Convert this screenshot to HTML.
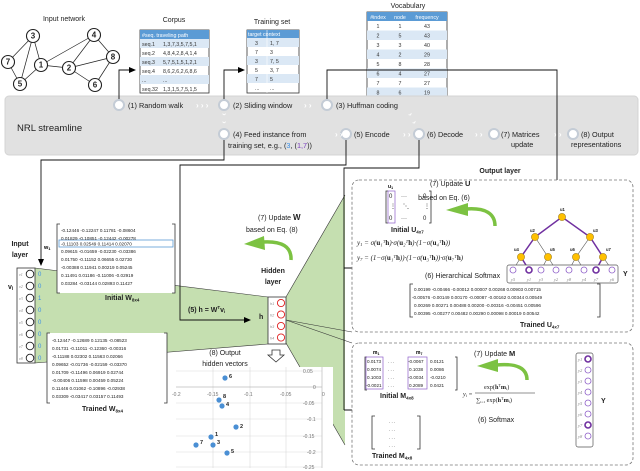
<!DOCTYPE html>
<html><head><meta charset="utf-8"><style>
html,body{margin:0;padding:0;background:#fff}
svg{display:block;font-family:"Liberation Sans",sans-serif}
.t{font-size:7px;fill:#222}
.m{font-size:4.6px;fill:#222}
.s{font-size:8px;fill:#222}
.b{font-weight:bold}
</style></head><body>
<svg width="640" height="471" viewBox="0 0 640 471" xmlns="http://www.w3.org/2000/svg">
<defs>
<marker id="ar" markerWidth="8" markerHeight="8" refX="6" refY="3" orient="auto" markerUnits="userSpaceOnUse"><path d="M0,0 L7,3 L0,6z" fill="#000"/></marker>
</defs>
<polygon points="35,268 268,297 268,344 35,363" fill="#c5dfb0"/>
<polygon points="286,297 345,195 345,445 286,343" fill="#c5dfb0"/>
<line x1="35" y1="268" x2="268" y2="297" stroke="#333" stroke-width="0.6"/>
<line x1="35" y1="363" x2="268" y2="344" stroke="#333" stroke-width="0.6"/>
<line x1="286" y1="297" x2="345" y2="195" stroke="#333" stroke-width="0.6"/>
<line x1="286" y1="343" x2="345" y2="445" stroke="#333" stroke-width="0.6"/>
<line x1="286" y1="320" x2="352" y2="332" stroke="#333" stroke-width="0.6"/>
<line x1="286" y1="320" x2="352" y2="343" stroke="#333" stroke-width="0.6"/>

<text x="64" y="21" class="t" text-anchor="middle">Input network</text>
<g stroke="#222" stroke-width="0.7">
<line x1="33" y1="36" x2="8" y2="62"/><line x1="33" y1="36" x2="20" y2="84"/><line x1="33" y1="36" x2="41" y2="65"/>
<line x1="8" y1="62" x2="20" y2="84"/><line x1="20" y1="84" x2="41" y2="65"/><line x1="41" y1="65" x2="69" y2="68"/>
<line x1="41" y1="65" x2="94" y2="35"/><line x1="69" y1="68" x2="94" y2="35"/><line x1="69" y1="68" x2="113" y2="57"/>
<line x1="69" y1="68" x2="95" y2="85"/><line x1="94" y1="35" x2="113" y2="57"/><line x1="113" y1="57" x2="95" y2="85"/>
</g>
<g fill="#fff" stroke="#222" stroke-width="1.1">
<circle cx="33" cy="36" r="6.5"/><circle cx="8" cy="62" r="6.5"/><circle cx="20" cy="84" r="6.5"/><circle cx="41" cy="65" r="6.5"/>
<circle cx="69" cy="68" r="6.5"/><circle cx="94" cy="35" r="6.5"/><circle cx="113" cy="57" r="6.5"/><circle cx="95" cy="85" r="6.5"/>
</g>
<g class="s b" text-anchor="middle" font-size="6.5">
<text x="33" y="38.5">3</text><text x="8" y="64.5">7</text><text x="20" y="86.5">5</text><text x="41" y="67.5">1</text>
<text x="69" y="70.5">2</text><text x="94" y="37.5">4</text><text x="113" y="59.5">8</text><text x="95" y="87.5">6</text>
</g>

<text x="174" y="22" class="t" text-anchor="middle">Corpus</text>
<rect x="140" y="30" width="69" height="63" fill="#fff" stroke="#333" stroke-width="0.8"/>
<rect x="140" y="30" width="69" height="9" fill="#5b9bd5"/>
<rect x="140" y="39" width="69" height="9" fill="#dbe8f5"/><rect x="140" y="57" width="69" height="9" fill="#dbe8f5"/><rect x="140" y="75" width="69" height="9" fill="#dbe8f5"/>
<g font-size="5.3" fill="#333">
<text x="142" y="37" fill="#fff">#seq.  traveling path</text>
<text x="142" y="46">seq.1</text><text x="163" y="46">1,3,7,3,5,7,5,1</text>
<text x="142" y="55">seq.2</text><text x="163" y="55">4,8,4,2,8,4,1,4</text>
<text x="142" y="64">seq.3</text><text x="163" y="64">5,7,5,1,5,1,2,1</text>
<text x="142" y="73">seq.4</text><text x="163" y="73">8,6,2,6,2,6,8,6</text>
<text x="142" y="82">...</text><text x="163" y="82">...</text>
<text x="142" y="91">seq.32</text><text x="163" y="91">1,3,1,5,7,5,1,5</text>
</g>
<text x="272" y="24" class="t" text-anchor="middle">Training set</text>
<rect x="247" y="30" width="52" height="63" fill="#fff" stroke="#333" stroke-width="0.8"/>
<rect x="247" y="30" width="52" height="8" fill="#5b9bd5"/>
<rect x="247" y="38" width="52" height="9" fill="#dbe8f5"/><rect x="247" y="56" width="52" height="9" fill="#dbe8f5"/><rect x="247" y="74" width="52" height="9" fill="#dbe8f5"/>
<line x1="267" y1="30" x2="267" y2="93" stroke="#fff" stroke-width="0.6"/>
<g font-size="5.3" fill="#333">
<text x="248" y="36" fill="#fff">target context</text>
<text x="255" y="45">3</text><text x="270" y="45">1, 7</text>
<text x="255" y="54">7</text><text x="270" y="54">3</text>
<text x="255" y="63">3</text><text x="270" y="63">7, 5</text>
<text x="255" y="72">5</text><text x="270" y="72">3, 7</text>
<text x="255" y="81">7</text><text x="270" y="81">5</text>
<text x="255" y="90">...</text><text x="270" y="90">...</text>
</g>
<text x="408" y="8" class="t" text-anchor="middle">Vocabulary</text>
<rect x="367" y="12" width="80" height="85" fill="#fff" stroke="#333" stroke-width="0.8"/>
<rect x="367" y="12" width="80" height="9" fill="#5b9bd5"/>
<g fill="#dbe8f5"><rect x="367" y="30.5" width="80" height="9.5"/><rect x="367" y="49.5" width="80" height="9.5"/><rect x="367" y="68.5" width="80" height="9.5"/><rect x="367" y="87.5" width="80" height="9.5"/></g>
<g font-size="5.3" fill="#333" text-anchor="middle">
<text x="378" y="19" fill="#fff">#index</text><text x="400" y="19" fill="#fff">node</text><text x="427" y="19" fill="#fff">frequency</text>
<text x="378" y="28">1</text><text x="400" y="28">1</text><text x="427" y="28">43</text>
<text x="378" y="37.5">2</text><text x="400" y="37.5">5</text><text x="427" y="37.5">43</text>
<text x="378" y="47">3</text><text x="400" y="47">3</text><text x="427" y="47">40</text>
<text x="378" y="56.5">4</text><text x="400" y="56.5">2</text><text x="427" y="56.5">29</text>
<text x="378" y="66">5</text><text x="400" y="66">8</text><text x="427" y="66">28</text>
<text x="378" y="75.5">6</text><text x="400" y="75.5">4</text><text x="427" y="75.5">27</text>
<text x="378" y="85">7</text><text x="400" y="85">7</text><text x="427" y="85">27</text>
<text x="378" y="94.5">8</text><text x="400" y="94.5">6</text><text x="427" y="94.5">19</text>
</g>

<rect x="5" y="96" width="633" height="59" rx="4" fill="#e1e1e1" stroke="#d4d4d4"/>
<text x="17" y="131" font-size="9.5" fill="#222">NRL streamline</text>
<g fill="none" stroke="#111" stroke-width="0.9">
<polyline points="119,100 119,70 135,70" marker-end="url(#ar)"/>
<polyline points="224,100 224,70 244,70" marker-end="url(#ar)"/>
<polyline points="327,100 327,70 557,70 557,193" marker-end="url(#ar)"/>
<polyline points="224,140 224,160 41,160 41,265" marker-end="url(#ar)"/>
<polyline points="346,140 346,165 180,165 180,320 250,320" marker-end="url(#ar)"/>
<polyline points="419,140 419,168 344,168 344,410"/>
<polyline points="344,268 496,268" marker-end="url(#ar)"/>
<polyline points="344,410 558,410" marker-end="url(#ar)"/>
</g>
<g fill="#fff" stroke="#c4ccd6" stroke-width="2">
<circle cx="119" cy="105" r="5"/><circle cx="224" cy="105" r="5"/>
<circle cx="327" cy="105" r="5"/><circle cx="224" cy="134" r="5"/><circle cx="346" cy="134" r="5"/><circle cx="419" cy="134" r="5"/>
<circle cx="494" cy="134" r="5"/><circle cx="573" cy="134" r="5"/>
</g>
<g font-size="7.3" fill="#222">
<text x="128" y="108">(1) Random walk</text>
<text x="233" y="108">(2) Sliding window</text>
<text x="336" y="108">(3) Huffman coding</text>
<text x="233" y="137">(4) Feed instance from</text>
<text x="228" y="148">training set, e.g., (<tspan fill="#3a8ee6">3</tspan>, (<tspan fill="#7b3fbf">1,7</tspan>))</text>
<text x="354" y="137">(5) Encode</text>
<text x="427" y="137">(6) Decode</text>
<text x="501" y="137">(7) Matrices</text>
<text x="511" y="147">update</text>
<text x="581" y="137">(8) Output</text>
<text x="571" y="147">representations</text>
</g>
<g font-size="8" fill="#fff" font-weight="bold">
<text x="196" y="108">› › ›</text><text x="304" y="108">› ›</text>
<text x="335" y="137">› ›</text><text x="403" y="137">› ›</text><text x="475" y="137">› ›</text><text x="554" y="137">› ›</text>
<text x="221" y="118" transform="rotate(90 224 116)">›</text><text x="221" y="126" transform="rotate(90 224 124)">›</text>
<text x="408" y="118" transform="rotate(60 411 116)">›</text><text x="412" y="126" transform="rotate(60 415 124)">›</text>
</g>

<text x="20" y="246" class="t b" text-anchor="middle">Input</text>
<text x="20" y="257" class="t b" text-anchor="middle">layer</text>
<text x="8" y="289" class="t b">v<tspan font-size="5" dy="1">i</tspan></text>
<text x="44" y="249" font-size="5.5" class="b">w<tspan font-size="4" dy="1">1</tspan></text>
<rect x="17" y="268" width="18" height="95" fill="#fff" stroke="#333" stroke-width="0.8"/>
<g fill="none" stroke="#222" stroke-width="0.9">
<circle cx="30" cy="274" r="3.8"/><circle cx="30" cy="286" r="3.8"/><circle cx="30" cy="298" r="3.8"/><circle cx="30" cy="310" r="3.8"/>
<circle cx="30" cy="322" r="3.8"/><circle cx="30" cy="334" r="3.8"/><circle cx="30" cy="346" r="3.8"/><circle cx="30" cy="358" r="3.8"/>
</g>
<g font-size="4" fill="#888" font-style="italic" font-family="Liberation Serif">
<text x="19" y="276">v1</text><text x="19" y="288">v2</text><text x="19" y="300">v3</text><text x="19" y="312">v4</text>
<text x="19" y="324">v5</text><text x="19" y="336">v6</text><text x="19" y="348">v7</text><text x="19" y="360">v8</text>
</g>
<g font-size="6" fill="#3a8ee6">
<text x="38" y="276">0</text><text x="38" y="288">0</text><text x="38" y="300">1</text><text x="38" y="312">0</text>
<text x="38" y="324">0</text><text x="38" y="336">0</text><text x="38" y="348">0</text><text x="38" y="360">0</text>
</g>

<rect x="57" y="224" width="118" height="69" fill="#fff"/>
<path d="M60,224 h-3 v69 h3 M172,224 h3 v69 h-3" fill="none" stroke="#333" stroke-width="0.8"/>
<rect x="59" y="240" width="114" height="7" fill="none" stroke="#5b9bd5" stroke-width="0.8"/>
<g class="m">
<text x="61" y="232">-0.12446   -0.12247   0.11781   -0.08604</text>
<text x="61" y="240">0.01829   -0.10851   -0.12442   -0.00278</text>
<text x="61" y="245.5">-0.11103   0.02549   0.11414   0.02070</text>
<text x="61" y="253">0.09615   -0.01659   -0.02230   -0.03386</text>
<text x="61" y="261">0.01750   -0.11152   0.06655   0.02730</text>
<text x="61" y="269">-0.00388   0.11941   0.00219   0.05245</text>
<text x="61" y="277">0.11491   0.01186   -0.11006   -0.02919</text>
<text x="61" y="285">0.03284   -0.03144   0.02893   0.11427</text>
</g>
<text x="105" y="300" class="t b">Initial W<tspan font-size="4.5" dy="1.5">8x4</tspan></text>
<rect x="47" y="333" width="120" height="70" fill="#fff"/>
<path d="M50,333 h-3 v70 h3 M164,333 h3 v70 h-3" fill="none" stroke="#333" stroke-width="0.8"/>
<g class="m">
<text x="52" y="342">-0.12447   -0.12689   0.12135   -0.08523</text>
<text x="52" y="350">0.01731   -0.11011   -0.12360   -0.00316</text>
<text x="52" y="358">-0.11188   0.02302   0.11563   0.02066</text>
<text x="52" y="366">0.09652   -0.01736   -0.02159   -0.03370</text>
<text x="52" y="374">0.01709   -0.11496   0.06919   0.02744</text>
<text x="52" y="382">-0.00406   0.11598   0.00459   0.05224</text>
<text x="52" y="390">0.11446   0.01062   -0.10896   -0.02938</text>
<text x="52" y="398">0.03309   -0.03417   0.03157   0.11493</text>
</g>
<text x="82" y="411" class="t b">Trained W<tspan font-size="4.5" dy="1.5">8x4</tspan></text>

<text x="258" y="220" class="t">(7) Update <tspan class="b" font-size="8">W</tspan></text>
<text x="246" y="232" class="t">based on Eq. (8)</text>
<path d="M291,260 Q292,240 262,242" fill="none" stroke="#7cc242" stroke-width="3.5"/>
<path d="M264,236 L244,244 L265,250z" fill="#7cc242"/>
<text x="273" y="273" class="t b" text-anchor="middle">Hidden</text>
<text x="273" y="284" class="t b" text-anchor="middle">layer</text>
<text x="188" y="312" class="t b">(5) h = W<tspan font-size="4.5" dy="-3">T</tspan><tspan dy="3">v</tspan><tspan font-size="4.5" dy="1">i</tspan></text>
<text x="259" y="319" class="t b">h</text>
<rect x="268" y="297" width="18" height="47" fill="#fff" stroke="#333" stroke-width="0.8"/>
<g fill="#fff" stroke="#e02020" stroke-width="0.9">
<circle cx="281" cy="303" r="3.6"/><circle cx="281" cy="314.5" r="3.6"/><circle cx="281" cy="326" r="3.6"/><circle cx="281" cy="337.5" r="3.6"/>
</g>
<g font-size="3.8" fill="#888" font-style="italic"><text x="270" y="305">h1</text><text x="270" y="316.5">h2</text><text x="270" y="328">h3</text><text x="270" y="339.5">h4</text></g>
<path d="M272,350 h8 v5 h4 l-8,7 l-8,-7 h4z" fill="#fff" stroke="#333" stroke-width="0.8"/>
<text x="225" y="355" class="t" text-anchor="middle">(8) Output</text>
<text x="225" y="366" class="t" text-anchor="middle">hidden vectors</text>

<rect x="176" y="367" width="157" height="101" fill="#fff"/>
<g stroke="#d9d9d9" stroke-width="0.6">
<line x1="176" y1="371" x2="322" y2="371"/><line x1="176" y1="403" x2="322" y2="403"/><line x1="176" y1="419" x2="322" y2="419"/>
<line x1="176" y1="436" x2="322" y2="436"/><line x1="176" y1="452" x2="322" y2="452"/><line x1="176" y1="467" x2="322" y2="467"/>
<line x1="213" y1="367" x2="213" y2="468"/><line x1="250" y1="367" x2="250" y2="468"/><line x1="286" y1="367" x2="286" y2="468"/>
</g>
<line x1="176" y1="387" x2="322" y2="387" stroke="#bbb" stroke-width="0.7"/>
<line x1="322" y1="367" x2="322" y2="468" stroke="#bbb" stroke-width="0.7"/>
<g font-size="5" fill="#777">
<text x="172" y="396">-0.2</text><text x="207" y="396">-0.15</text><text x="244" y="396">-0.1</text><text x="280" y="396">-0.05</text><text x="322" y="396">0</text>
<text x="303" y="373">0.05</text><text x="313" y="389">0</text><text x="303" y="405">-0.05</text><text x="307" y="421">-0.1</text>
<text x="303" y="438">-0.15</text><text x="307" y="454">-0.2</text><text x="303" y="469">-0.25</text>
</g>
<g fill="#4a8fd4">
<circle cx="225" cy="378" r="2.6"/><circle cx="219" cy="400" r="2.6"/><circle cx="222" cy="406" r="2.6"/><circle cx="236" cy="427" r="2.6"/>
<circle cx="211" cy="437" r="2.6"/><circle cx="196" cy="445" r="2.6"/><circle cx="213" cy="445" r="2.6"/><circle cx="227" cy="453" r="2.6"/>
</g>
<g font-size="5.5" class="b" fill="#222">
<text x="229" y="378">6</text><text x="223" y="398">8</text><text x="226" y="406">4</text><text x="240" y="428">2</text>
<text x="215" y="436">1</text><text x="200" y="444">7</text><text x="217" y="444">3</text><text x="231" y="453">5</text>
</g>

<text x="500" y="173" class="t b" text-anchor="middle">Output layer</text>
<rect x="352" y="180" width="281" height="152" rx="7" fill="#fff" stroke="#777" stroke-width="0.8" stroke-dasharray="3,2"/>
<text x="388" y="188" font-size="5" class="b">u<tspan font-size="3.5" dy="1">1</tspan></text>
<path d="M388,191 h-2 v32 h2 M429,191 h2 v32 h-2" fill="none" stroke="#333" stroke-width="0.8"/>
<rect x="388" y="191" width="7" height="32" fill="none" stroke="#8e5ec8" stroke-width="0.7"/>
<g font-size="6" fill="#222"><text x="389" y="198">0</text><text x="401" y="198">···</text><text x="423" y="198">0</text>
<text x="390" y="208">⋮</text><text x="403" y="208">⋱</text><text x="424" y="208">⋮</text>
<text x="389" y="220">0</text><text x="401" y="220">···</text><text x="423" y="220">0</text></g>
<text x="391" y="232" class="t b">Initial U<tspan font-size="4.5" dy="1.5">4x7</tspan></text>
<g font-family="Liberation Serif" font-size="7" fill="#222" font-style="italic">
<text x="357" y="245">y<tspan font-size="4.5" dy="1">1</tspan><tspan dy="-1"> = σ(<tspan font-weight="bold" font-style="normal">u</tspan>₁ᵀ<tspan font-weight="bold" font-style="normal">h</tspan>)·σ(<tspan font-weight="bold" font-style="normal">u</tspan>₂ᵀ<tspan font-weight="bold" font-style="normal">h</tspan>)·(1−σ(<tspan font-weight="bold" font-style="normal">u</tspan>₄ᵀ<tspan font-weight="bold" font-style="normal">h</tspan>))</tspan></text>
<text x="357" y="260">y<tspan font-size="4.5" dy="1">7</tspan><tspan dy="-1"> = (1−σ(<tspan font-weight="bold" font-style="normal">u</tspan>₁ᵀ<tspan font-weight="bold" font-style="normal">h</tspan>))·(1−σ(<tspan font-weight="bold" font-style="normal">u</tspan>₃ᵀ<tspan font-weight="bold" font-style="normal">h</tspan>))·σ(<tspan font-weight="bold" font-style="normal">u</tspan>₇ᵀ<tspan font-weight="bold" font-style="normal">h</tspan>)</tspan></text>
</g>
<text x="425" y="278" class="t">(6) Hierarchical Softmax</text>
<text x="430" y="186" class="t">(7) Update <tspan class="b" font-size="7.5">U</tspan></text>
<text x="444" y="200" class="t" text-anchor="middle">based on Eq. (6)</text>
<path d="M495,226 Q495,207 466,209" fill="none" stroke="#7cc242" stroke-width="3.5"/>
<path d="M468,203 L446,210 L468,216z" fill="#7cc242"/>
<g stroke="#555" stroke-width="0.6">
<line x1="535" y1="237" x2="521" y2="257"/><line x1="535" y1="237" x2="548" y2="257"/>
<line x1="590" y1="237" x2="576" y2="257"/><line x1="590" y1="237" x2="603" y2="257"/>
<line x1="521" y1="257" x2="513" y2="270"/><line x1="548" y1="257" x2="541" y2="270"/><line x1="548" y1="257" x2="556" y2="270"/>
<line x1="576" y1="257" x2="569" y2="270"/><line x1="576" y1="257" x2="584" y2="270"/><line x1="603" y1="257" x2="612" y2="270"/>
</g>
<g stroke="#7030a0" stroke-width="1.5" fill="none">
<polyline points="529,270 521,257 535,237 562,217 590,237 603,257 596,270"/>
</g>
<rect x="507" y="265" width="111" height="18" rx="2" fill="#fff" stroke="#555" stroke-width="0.7"/>
<g fill="#fff" stroke="#8e5ec8" stroke-width="0.8">
<circle cx="513" cy="270" r="3"/><circle cx="541" cy="270" r="3"/><circle cx="556" cy="270" r="3"/>
<circle cx="569" cy="270" r="3"/><circle cx="584" cy="270" r="3"/><circle cx="612" cy="270" r="3"/>
</g>
<g fill="#fff" stroke="#7030a0" stroke-width="1.6"><circle cx="529" cy="270" r="3"/><circle cx="596" cy="270" r="3"/></g>
<g font-size="4.5" fill="#888" font-style="italic" font-family="Liberation Serif" text-anchor="middle">
<text x="513" y="281">y5</text><text x="529" y="281">y1</text><text x="541" y="281">y3</text><text x="556" y="281">y2</text>
<text x="569" y="281">y8</text><text x="584" y="281">y4</text><text x="596" y="281">y7</text><text x="612" y="281">y6</text>
</g>
<text x="623" y="276" class="t b">Y</text>
<g fill="#ffc000" stroke="#a08020" stroke-width="0.6">
<circle cx="562" cy="217" r="3.6"/><circle cx="535" cy="237" r="3.6"/><circle cx="590" cy="237" r="3.6"/>
<circle cx="521" cy="257" r="3.6"/><circle cx="548" cy="257" r="3.6"/><circle cx="576" cy="257" r="3.6"/><circle cx="603" cy="257" r="3.6"/>
</g>
<g font-size="4.2" class="b" fill="#222">
<text x="560" y="211">u1</text><text x="530" y="232">u2</text><text x="593" y="232">u3</text>
<text x="514" y="251">u4</text><text x="550" y="251">u5</text><text x="570" y="251">u6</text><text x="606" y="251">u7</text>
</g>
<path d="M413,284 h-3 v33 h3 M597,284 h3 v33 h-3" fill="none" stroke="#333" stroke-width="0.8"/>
<g class="m" font-size="4.4">
<text x="414" y="291">0.00199   -0.00466   -0.00012   0.00007   0.00268   0.00903   0.00715</text>
<text x="412" y="299">-0.00576   -0.00149   0.00170   -0.00087   -0.00162   0.00344   0.00549</text>
<text x="414" y="307">0.00269   0.00271   0.00488   0.00200   -0.00316   -0.00451   0.00596</text>
<text x="414" y="315">0.00395   -0.00277   0.00482   0.00290   0.00098   0.00019   0.00542</text>
</g>
<text x="520" y="327" class="t b">Trained U<tspan font-size="4.5" dy="1.5">4x7</tspan></text>

<rect x="352" y="343" width="281" height="122" rx="7" fill="#fff" stroke="#777" stroke-width="0.8" stroke-dasharray="3,2"/>
<text x="373" y="354" font-size="5" class="b">m<tspan font-size="3.5" dy="1">1</tspan></text>
<text x="416" y="354" font-size="5" class="b">m<tspan font-size="3.5" dy="1">7</tspan></text>
<path d="M367,357 h-2 v33 h2 M455,357 h2 v33 h-2" fill="none" stroke="#333" stroke-width="0.8"/>
<rect x="366" y="357" width="17" height="32" fill="none" stroke="#8e5ec8" stroke-width="0.7"/>
<rect x="408" y="357" width="19" height="32" fill="none" stroke="#8e5ec8" stroke-width="0.7"/>
<g class="m" font-size="4.6">
<text x="367" y="363">0.0173</text><text x="388" y="363">. . .</text><text x="408" y="363">-0.0067</text><text x="430" y="363">0.0121</text>
<text x="367" y="371">0.0074</text><text x="388" y="371">. . .</text><text x="409" y="371">0.1038</text><text x="430" y="371">0.0086</text>
<text x="367" y="379">0.1003</text><text x="388" y="379">. . .</text><text x="408" y="379">-0.0034</text><text x="430" y="379">-0.0210</text>
<text x="366" y="387">-0.0021</text><text x="388" y="387">. . .</text><text x="409" y="387">0.2089</text><text x="430" y="387">0.0421</text>
</g>
<text x="380" y="398" class="t b">Initial M<tspan font-size="4.5" dy="1.5">4x8</tspan></text>
<text x="474" y="356" class="t">(7) Update <tspan class="b" font-size="7.5">M</tspan></text>
<path d="M527,380 Q527,362 496,365" fill="none" stroke="#7cc242" stroke-width="3.5"/>
<path d="M498,359 L477,366 L498,372z" fill="#7cc242"/>
<g font-family="Liberation Serif" font-size="6.2" fill="#222">
<text x="463" y="396" font-style="italic">y<tspan font-size="4" dy="1">i</tspan><tspan dy="-1"> =</tspan></text>
<text x="484" y="389">exp(<tspan font-weight="bold">h</tspan><tspan font-size="4" dy="-2">T</tspan><tspan dy="2" font-weight="bold">m</tspan><tspan font-size="4" dy="1">i</tspan><tspan dy="-1">)</tspan></text>
<line x1="475" y1="393" x2="535" y2="393" stroke="#222" stroke-width="0.5"/>
<text x="476" y="402">∑<tspan font-size="3.5" dy="1">i=1</tspan><tspan dy="-1"> exp(</tspan><tspan font-weight="bold">h</tspan><tspan font-size="4" dy="-2">T</tspan><tspan dy="2" font-weight="bold">m</tspan><tspan font-size="4" dy="1">i</tspan><tspan dy="-1">)</tspan></text>
</g>
<text x="478" y="422" class="t">(6) Softmax</text>
<path d="M375,416 h-3 v33 h3 M417,416 h3 v33 h-3" fill="none" stroke="#333" stroke-width="0.8"/>
<g class="m" font-size="5"><text x="389" y="423">. . .</text><text x="389" y="431">. . .</text><text x="389" y="439">. . .</text><text x="389" y="447">. . .</text></g>
<text x="372" y="458" class="t b">Trained M<tspan font-size="4.5" dy="1.5">4x8</tspan></text>
<rect x="576" y="353" width="17" height="94" rx="2" fill="#fff" stroke="#555" stroke-width="0.7"/>
<g fill="#fff" stroke="#8e5ec8" stroke-width="0.8">
<circle cx="588" cy="370" r="3"/><circle cx="588" cy="381" r="3"/><circle cx="588" cy="392" r="3"/>
<circle cx="588" cy="403" r="3"/><circle cx="588" cy="414" r="3"/><circle cx="588" cy="436" r="3"/>
</g>
<g fill="#fff" stroke="#7030a0" stroke-width="1.6"><circle cx="588" cy="359" r="3"/><circle cx="588" cy="425" r="3"/></g>
<g font-size="4.5" fill="#888" font-style="italic" font-family="Liberation Serif">
<text x="578" y="361">y1</text><text x="578" y="372">y2</text><text x="578" y="383">y3</text><text x="578" y="394">y4</text>
<text x="578" y="405">y5</text><text x="578" y="416">y6</text><text x="578" y="427">y7</text><text x="578" y="438">y8</text>
</g>
<text x="601" y="403" class="t b">Y</text>
</svg>
</body></html>
